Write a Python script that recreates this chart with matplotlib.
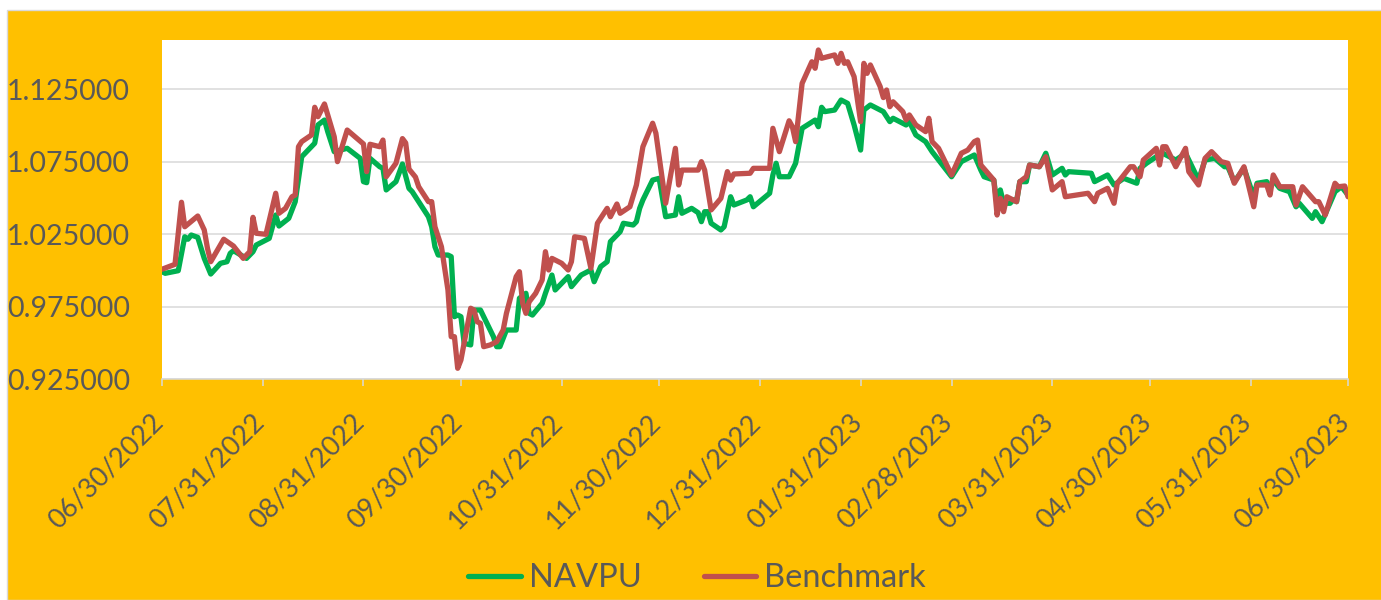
import numpy as np
import pandas as pd
import matplotlib
matplotlib.use('Agg')
import matplotlib.pyplot as plt
from matplotlib.patches import Rectangle
from matplotlib.ticker import FormatStrFormatter
from matplotlib.transforms import ScaledTranslation

plt.rcParams['font.family'] = ['Lato', 'DejaVu Sans']

# values, days counted from 06/30/2022
start_date = '2022-06-30'

nav_days = [0, 1, 5, 7, 8, 9, 11, 13, 15, 18, 20, 21, 22, 26, 28, 29, 33, 35, 36, 39,
            41, 43, 47, 48, 50, 51, 53, 57, 61, 62, 63, 64, 67, 68, 69, 72, 74, 76, 77, 82,
            83, 84, 85, 88, 89, 90, 91, 92, 93, 95, 96, 98, 100, 102, 103, 104, 106, 109, 110, 112,
            113, 114, 117, 118, 120, 121, 125, 126, 129, 132, 133, 135, 137, 138, 141, 142, 145, 146, 147, 148,
            151, 153, 155, 158, 159, 160, 163, 165, 166, 167, 168, 169, 172, 173, 175, 176, 180, 181, 182, 187,
            188, 189, 190, 193, 195, 197, 201, 202, 203, 204, 207, 209, 211, 213, 215, 216, 218, 221, 222, 224,
            225, 229, 230, 232, 235, 237, 239, 243, 246, 250, 252, 253, 256, 257, 258, 259, 261, 262, 263, 264,
            266, 267, 270, 272, 274, 277, 278, 279, 286, 287, 291, 293, 296, 300, 301, 303, 306, 308, 312, 315,
            319, 321, 324, 327, 328, 330, 333, 336, 337, 340, 341, 342, 344, 347, 349, 350, 354, 355, 357, 361,
            363, 365]
nav_values = [0.9992, 0.9981, 0.9999, 1.0233, 1.0216, 1.0245, 1.0229, 1.0084, 0.9976, 1.0050,
              1.0061, 1.0119, 1.0137, 1.0084, 1.0130, 1.0176, 1.0222, 1.0383, 1.0307, 1.0360,
              1.0475, 1.0785, 1.0878, 1.1004, 1.1038, 1.0958, 1.0820, 1.0843, 1.0774, 1.0613,
              1.0606, 1.0774, 1.0716, 1.0705, 1.0556, 1.0613, 1.0735, 1.0567, 1.0544, 1.0371,
              1.0302, 1.0164, 1.0107, 1.0107, 1.0096, 0.9682, 0.9693, 0.9682, 0.9498, 0.9487,
              0.9728, 0.9728, 0.9636, 0.9544, 0.9475, 0.9475, 0.9590, 0.9590, 0.9809, 0.9843,
              0.9705, 0.9693, 0.9774, 0.9843, 0.9969, 0.9866, 0.9958, 0.9889, 0.9969, 1.0004,
              0.9923, 1.0027, 1.0061, 1.0199, 1.0268, 1.0326, 1.0314, 1.0337, 1.0429, 1.0487,
              1.0624, 1.0636, 1.0371, 1.0383, 1.0509, 1.0395, 1.0429, 1.0399, 1.0337, 1.0406,
              1.0406, 1.0326, 1.0280, 1.0302, 1.0509, 1.0452, 1.0487, 1.0509, 1.0440, 1.0533,
              1.0659, 1.0740, 1.0647, 1.0647, 1.0740, 1.0981, 1.1038, 1.0992, 1.1126, 1.1096,
              1.1107, 1.1176, 1.1153, 1.1004, 1.0831, 1.1107, 1.1142, 1.1107, 1.1096, 1.1027,
              1.1050, 1.1004, 1.1027, 1.0935, 1.0889, 1.0820, 1.0762, 1.0647, 1.0751, 1.0797,
              1.0693, 1.0647, 1.0624, 1.0452, 1.0556, 1.0464, 1.0464, 1.0487, 1.0475, 1.0613,
              1.0613, 1.0728, 1.0716, 1.0809, 1.0659, 1.0705, 1.0659, 1.0682, 1.0671, 1.0613,
              1.0659, 1.0590, 1.0636, 1.0602, 1.0705, 1.0740, 1.0785, 1.0809, 1.0762, 1.0809,
              1.0624, 1.0762, 1.0774, 1.0716, 1.0716, 1.0613, 1.0705, 1.0509, 1.0602, 1.0613,
              1.0567, 1.0624, 1.0567, 1.0544, 1.0440, 1.0464, 1.0360, 1.0406, 1.0337, 1.0544,
              1.0578, 1.0521]

bench_days = [0, 4, 6, 7, 11, 13, 14, 15, 19, 22, 25, 27, 28, 29, 32, 35, 36, 38, 40, 41,
              42, 43, 46, 47, 48, 50, 53, 54, 57, 62, 63, 64, 67, 68, 69, 72, 74, 75, 76, 78,
              79, 82, 83, 84, 86, 88, 89, 90, 91, 92, 95, 96, 97, 98, 99, 101, 103, 105, 106, 109,
              110, 111, 112, 113, 115, 117, 118, 119, 120, 123, 125, 126, 127, 130, 132, 134, 137, 138, 140, 141,
              144, 146, 148, 151, 152, 155, 158, 159, 160, 165, 166, 167, 169, 172, 174, 175, 176, 181, 182, 187,
              188, 190, 193, 194, 195, 197, 200, 201, 202, 203, 207, 208, 209, 210, 211, 213, 215, 216, 217, 218,
              221, 222, 223, 224, 225, 228, 229, 230, 232, 235, 236, 237, 239, 241, 243, 246, 248, 250, 251, 252,
              256, 257, 258, 259, 260, 263, 264, 266, 267, 270, 272, 274, 277, 278, 285, 287, 288, 291, 293, 294,
              298, 299, 301, 302, 306, 307, 308, 309, 312, 315, 316, 319, 321, 323, 324, 326, 328, 330, 333, 336,
              337, 340, 341, 342, 344, 348, 349, 351, 355, 356, 358, 361, 362, 364, 365]
bench_values = [1.0009, 1.0043, 1.0471, 1.0302, 1.0376, 1.0280, 1.0153, 1.0061, 1.0216, 1.0169,
                1.0084, 1.0130, 1.0367, 1.0257, 1.0250, 1.0533, 1.0395, 1.0429, 1.0509, 1.0521,
                1.0854, 1.0889, 1.0935, 1.1126, 1.1061, 1.1149, 1.0923, 1.0751, 1.0969, 1.0873,
                1.0682, 1.0871, 1.0854, 1.0900, 1.0647, 1.0740, 1.0910, 1.0880, 1.0700, 1.0645,
                1.0578, 1.0475, 1.0475, 1.0302, 1.0164, 0.9866, 0.9544, 0.9544, 0.9326, 0.9383,
                0.9740, 0.9728, 0.9647, 0.9636, 0.9475, 0.9487, 0.9509, 0.9590, 0.9705, 0.9958,
                0.9992, 0.9774, 0.9705, 0.9785, 0.9843, 0.9935, 1.0130, 1.0004, 1.0084, 1.0050,
                1.0004, 1.0061, 1.0233, 1.0222, 1.0016, 1.0326, 1.0429, 1.0371, 1.0459, 1.0395,
                1.0440, 1.0590, 1.0854, 1.1016, 1.0947, 1.0464, 1.0843, 1.0590, 1.0693, 1.0693,
                1.0751, 1.0693, 1.0418, 1.0498, 1.0682, 1.0624, 1.0666, 1.0671, 1.0705, 1.0705,
                1.0981, 1.0820, 1.1033, 1.0992, 1.0889, 1.1291, 1.1440, 1.1395, 1.1521, 1.1464,
                1.1487, 1.1429, 1.1498, 1.1429, 1.1440, 1.1337, 1.1027, 1.1429, 1.1360, 1.1418,
                1.1270, 1.1193, 1.1245, 1.1130, 1.1164, 1.1096, 1.1038, 1.1073, 1.1004, 1.0958,
                1.1050, 1.0889, 1.0843, 1.0751, 1.0659, 1.0809, 1.0831, 1.0889, 1.0900, 1.0728,
                1.0624, 1.0383, 1.0498, 1.0406, 1.0509, 1.0475, 1.0613, 1.0647, 1.0728, 1.0716,
                1.0785, 1.0556, 1.0613, 1.0509, 1.0533, 1.0475, 1.0533, 1.0567, 1.0464, 1.0602,
                1.0716, 1.0716, 1.0647, 1.0762, 1.0843, 1.0728, 1.0854, 1.0854, 1.0716, 1.0843,
                1.0682, 1.0590, 1.0774, 1.0820, 1.0797, 1.0751, 1.0740, 1.0602, 1.0716, 1.0440,
                1.0590, 1.0590, 1.0521, 1.0659, 1.0578, 1.0578, 1.0452, 1.0578, 1.0475, 1.0475,
                1.0383, 1.0602, 1.0578, 1.0583, 1.0509]

month_ends = ['2022-06-30', '2022-07-31', '2022-08-31', '2022-09-30', '2022-10-31',
              '2022-11-30', '2022-12-31', '2023-01-31', '2023-02-28', '2023-03-31',
              '2023-04-30', '2023-05-31', '2023-06-30']
y_ticks = [0.925, 0.975, 1.025, 1.075, 1.125]

start = pd.Timestamp(start_date)
nav_dates = start + pd.to_timedelta(nav_days, unit='D')
bench_dates = start + pd.to_timedelta(bench_days, unit='D')
tick_dates = pd.to_datetime(month_ends)

text_col = '#595959'
grid_col = '#D9D9D9'

fig = plt.figure(figsize=(13.81, 6.0), dpi=100, facecolor='white')

# orange chart area with thin grey border
fig.add_artist(Rectangle((7 / 1381, 0), 1, 1 - 10 / 600, transform=fig.transFigure,
                         facecolor='#FFC000', edgecolor=grid_col, lw=1, zorder=-1))

ax = fig.add_axes([162 / 1381, 1 - 379.3 / 600, (1348 - 162) / 1381, (379.3 - 40) / 600])
ax.set_facecolor('white')

ax.plot(nav_dates, nav_values, color='#00B050', lw=3.8, label='NAVPU',
        solid_joinstyle='round', solid_capstyle='round')
ax.plot(bench_dates, bench_values, color='#C0504D', lw=3.8, label='Benchmark',
        solid_joinstyle='round', solid_capstyle='round')

ax.set_ylim(0.925, 1.159)
ax.set_yticks(y_ticks)
ax.yaxis.set_major_formatter(FormatStrFormatter('%.6f'))

ax.set_xlim(tick_dates[0], tick_dates[-1])
ax.set_xticks(tick_dates)
ax.set_xticklabels([d.strftime('%m/%d/%Y') for d in tick_dates], rotation=45, ha='right')

ax.grid(axis='y', color=grid_col, lw=1.1)
ax.set_axisbelow(True)
for s in ['left', 'right', 'top']:
    ax.spines[s].set_visible(False)
ax.spines['bottom'].set_color(grid_col)
ax.spines['bottom'].set_linewidth(1.1)

ax.tick_params(axis='x', length=5, width=1.1, color=grid_col, pad=16.5,
               labelsize=19.5, labelcolor=text_col)
ax.tick_params(axis='y', length=0, pad=23, labelsize=20.5, labelcolor=text_col)

# nudge date labels a little to the right like the original
offset = ScaledTranslation(0.06, 0, fig.dpi_scale_trans)
for lab in ax.get_xticklabels():
    lab.set_transform(lab.get_transform() + offset)

fig.legend(loc='center', bbox_to_anchor=(697 / 1381, 1 - 578 / 600), ncol=2, frameon=False,
           fontsize=23.5, handlelength=1.6, handletextpad=0.25, columnspacing=1.9,
           labelcolor=text_col)

fig.savefig('out.png', dpi=100, facecolor=fig.get_facecolor())
